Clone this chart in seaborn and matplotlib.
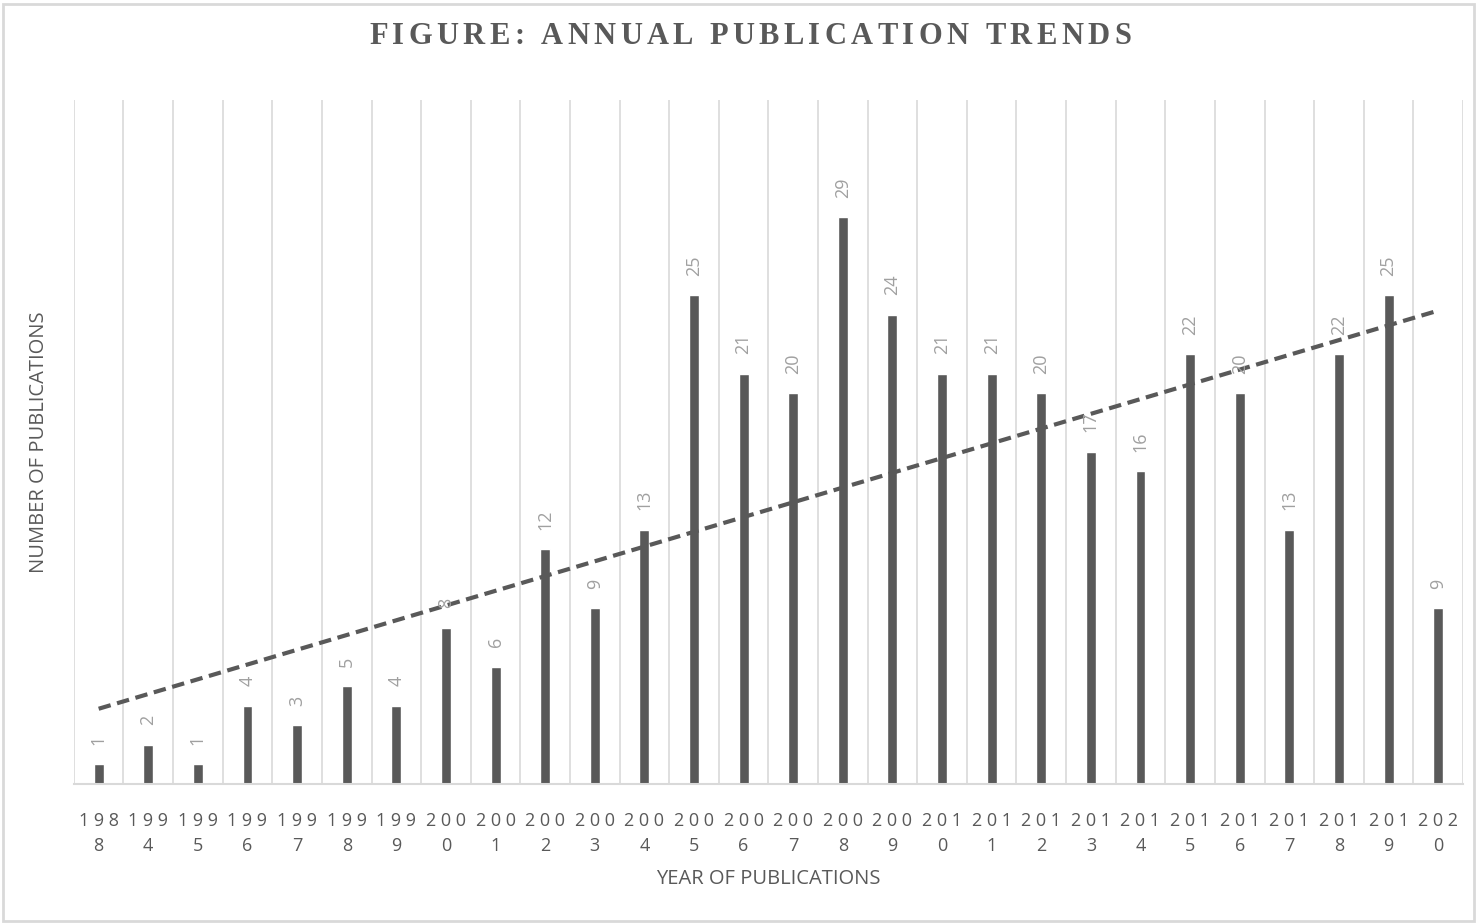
import matplotlib
matplotlib.use("Agg")
import matplotlib.pyplot as plt
import seaborn as sns
import numpy as np
import pandas as pd
from matplotlib.patches import Rectangle

# data
years = ["1988", "1994", "1995", "1996", "1997", "1998", "1999", "2000", "2001", "2002",
         "2003", "2004", "2005", "2006", "2007", "2008", "2009", "2010", "2011", "2012",
         "2013", "2014", "2015", "2016", "2017", "2018", "2019", "2020"]
counts = [1, 2, 1, 4, 3, 5, 4, 8, 6, 12, 9, 13, 25, 21, 20, 29, 24, 21, 21, 20,
          17, 16, 22, 20, 13, 22, 25, 9]

# Excel style wrapped tick labels: "1 9 8" / "8"
tick_labels = [" ".join(y[:3]) + "\n" + y[3] for y in years]
title = "FIGURE: ANNUAL PUBLICATION TRENDS"

df = pd.DataFrame({"year": years, "count": counts})

sns.set_theme(style="white")
plt.rcParams["font.family"] = ["Open Sans", "DejaVu Sans"]

dark = "#595959"
grid_c = "#d9d9d9"

fig = plt.figure(figsize=(14.77, 9.23), dpi=100)
ax = fig.add_axes([0.050, 0.1506, 0.9405, 0.7411])

sns.barplot(data=df, x="year", y="count", color=dark, saturation=1, width=0.2, ax=ax)

# linear trend line
pos = np.arange(len(counts))
k, b = np.polyfit(pos, counts, 1)
ax.plot(pos, k * pos + b, color=dark, lw=3, ls=(0, (3, 1.6)), zorder=3)

# data labels
for p, v in zip(pos, counts):
    ax.annotate(str(v), (p, v), xytext=(0, 14), textcoords="offset points",
                rotation=90, ha="center", va="bottom", fontsize=13, color="#a0a0a0")

ax.set_xlim(-0.5, len(counts) - 0.5)
ax.set_ylim(0, 35)
ax.set_yticks([])
ax.set_xticks(pos)
ax.set_xticklabels(tick_labels, fontsize=13, color=dark, linespacing=1.5)
ax.set_xticks(np.arange(-0.5, len(counts)), minor=True)
ax.tick_params(axis="x", which="both", length=0, pad=20)
ax.grid(False)
ax.grid(which="minor", axis="x", color=grid_c, lw=1.2)
ax.set_axisbelow(True)
for s in ["top", "right", "left"]:
    ax.spines[s].set_visible(False)
ax.spines["bottom"].set_color(grid_c)
ax.spines["bottom"].set_linewidth(1.5)

ax.set_xlabel("YEAR OF PUBLICATIONS", fontsize=14.5, color=dark, labelpad=10)
ax.set_ylabel("NUMBER OF PUBLICATIONS", fontsize=14.5, color=dark, labelpad=18)

# title with letter spacing, placed char by char
renderer = fig.canvas.get_renderer()
track = 4.4  # px between letters
widths = []
for ch in title:
    t = fig.text(0, 0, ch if ch != " " else "\u00a0", fontsize=22, fontweight="bold",
                 family="Liberation Serif")
    widths.append(t.get_window_extent(renderer).width)
    t.remove()
total = sum(widths) + track * (len(title) - 1)
W = fig.get_figwidth() * fig.dpi
x0 = (750 - total / 2)
for ch, w in zip(title, widths):
    if ch != " ":
        fig.text(x0 / W, 1 - 37 / 923, ch, ha="left", va="center", fontsize=22,
                 fontweight="bold", color=dark, family="Liberation Serif")
    x0 += w + track

fig.patches.append(Rectangle((0.002, 0.002), 0.996, 0.994, transform=fig.transFigure,
                             fill=False, edgecolor=grid_c, lw=2))

fig.savefig("out.png", dpi=100)
